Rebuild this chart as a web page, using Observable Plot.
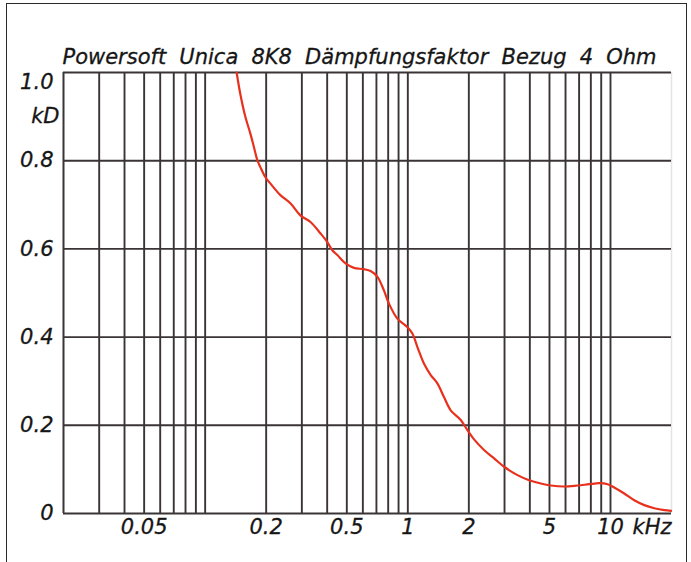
<!DOCTYPE html>
<html>
<head>
<meta charset="utf-8">
<script src="https://cdn.jsdelivr.net/npm/d3@7"></script>
<script src="https://cdn.jsdelivr.net/npm/@observablehq/plot@0.6"></script>
<style>
  html, body { margin: 0; padding: 0; background: #fff; overflow: hidden; width: 691px; height: 562px; }
  #frame { position: absolute; left: 6px; top: 3px; width: 681px; height: 640px; border: 1.5px solid #2a2a2a; box-sizing: border-box; }
  #chart { position: absolute; left: 0; top: 0; }
</style>
</head>
<body>
<div id="frame"></div>
<div id="chart"></div>
<script>
const title = "Powersoft Unica 8K8 Dämpfungsfaktor Bezug 4 Ohm";
const yUnit = "kD";
const xUnit = "kHz";

// frequency in kHz
const freq = [0.143, 0.149, 0.158, 0.167, 0.174, 0.181, 0.187, 0.198, 0.210, 0.235,
  0.264, 0.295, 0.331, 0.371, 0.400, 0.424, 0.449, 0.493, 0.542, 0.607,
  0.655, 0.707, 0.762, 0.807, 0.888, 0.994, 1.053, 1.114, 1.201, 1.297,
  1.399, 1.508, 1.628, 1.824, 1.968, 2.122, 2.377, 2.665, 2.986, 3.476,
  3.966, 4.532, 5.078, 5.907, 6.88, 7.85, 8.80, 9.68, 10.43, 11.69,
  13.1, 14.68, 16.44, 18.43, 19.9];
// damping factor kD
const kd = [1.0, 0.952, 0.899, 0.862, 0.831, 0.801, 0.786, 0.763, 0.748, 0.722,
  0.703, 0.676, 0.661, 0.635, 0.616, 0.597, 0.586, 0.567, 0.557, 0.554,
  0.550, 0.537, 0.506, 0.476, 0.442, 0.423, 0.408, 0.378, 0.340, 0.314,
  0.295, 0.264, 0.234, 0.212, 0.189, 0.168, 0.144, 0.125, 0.106, 0.087,
  0.0755, 0.068, 0.0635, 0.0612, 0.0635, 0.0664, 0.0687, 0.0664, 0.059, 0.0454,
  0.030, 0.019, 0.012, 0.0075, 0.006];

const xGrid = [0.03, 0.04, 0.05, 0.06, 0.07, 0.08, 0.09, 0.1,
  0.2, 0.3, 0.4, 0.5, 0.6, 0.7, 0.8, 0.9, 1,
  2, 3, 4, 5, 6, 7, 8, 9, 10];
const xTickValues = [0.05, 0.2, 0.5, 1, 2, 5, 10];
const xTickLabels = ["0.05", "0.2", "0.5", "1", "2", "5", "10"];
const yGrid = [0.2, 0.4, 0.6, 0.8];
const yTickValues = [0, 0.2, 0.4, 0.6, 0.8];
const yTickLabels = ["0", "0.2", "0.4", "0.6", "0.8"];
const yTopLabel = {value: 1.0, label: "1.0"};
const yUnitAt = 0.9;

const data = freq.map((f, i) => ({f, k: kd[i]}));
const xTicks = xTickValues.map((v, i) => ({v, t: xTickLabels[i]}));
const yTicks = yTickValues.map((v, i) => ({v, t: yTickLabels[i]}));

const gridColor = "#3a3436";
const textColor = "#161616";
const font = {fontFamily: "DejaVu Sans", fontStyle: "italic", fill: textColor, stroke: textColor, strokeWidth: 0.3, fontSize: 21};

const chart = Plot.plot({
  width: 691,
  height: 562,
  marginLeft: 63,
  marginRight: 20,
  marginTop: 72,
  marginBottom: 49,
  x: {type: "log", domain: [0.02, 20], axis: null},
  y: {domain: [0, 1], axis: null},
  style: {fontFamily: "DejaVu Sans", fontSize: "21px", fontStyle: "italic", background: "transparent", overflow: "visible"},
  marks: [
    Plot.ruleX([20], {stroke: "#e4e4e4", strokeWidth: 1.5}),
    Plot.ruleX(xGrid, {stroke: gridColor, strokeWidth: 1.9}),
    Plot.ruleY(yGrid, {stroke: gridColor, strokeWidth: 1.9}),
    Plot.ruleX([0.02], {stroke: gridColor, strokeWidth: 2}),
    Plot.ruleY([0, 1], {stroke: gridColor, strokeWidth: 2}),
    Plot.line(data, {x: "f", y: "k", stroke: "#e8311d", strokeWidth: 2.2, curve: "catmull-rom"}),
    Plot.text(xTicks, {x: "v", y: 0, text: "t", dy: 14, textAnchor: "middle", lineAnchor: "middle", ...font, letterSpacing: 1}),
    Plot.text([xUnit], {x: 20, y: 0, text: d => d, dy: 14, textAnchor: "end", lineAnchor: "middle", ...font, letterSpacing: 0.5}),
    Plot.text(yTicks, {x: 0.02, y: "v", text: "t", dx: -10, textAnchor: "end", lineAnchor: "middle", ...font, letterSpacing: 1}),
    Plot.text([yTopLabel], {x: 0.02, y: "value", text: "label", dx: -10, dy: 10, textAnchor: "end", lineAnchor: "middle", ...font, letterSpacing: 0.5}),
    Plot.text([yUnit], {x: 0.02, y: yUnitAt, text: d => d, dx: -4, textAnchor: "end", lineAnchor: "middle", ...font, letterSpacing: 0.5}),
    Plot.text([title], {frameAnchor: "top-left", text: d => d, dx: -1, dy: -9, textAnchor: "start", lineAnchor: "bottom", ...font})
  ]
});
document.getElementById("chart").appendChild(chart);
// match the wide word gaps of the original title
d3.select(chart).selectAll("text").filter(function() { return this.textContent === title; })
  .style("word-spacing", "6.5px");
</script>
</body>
</html>
